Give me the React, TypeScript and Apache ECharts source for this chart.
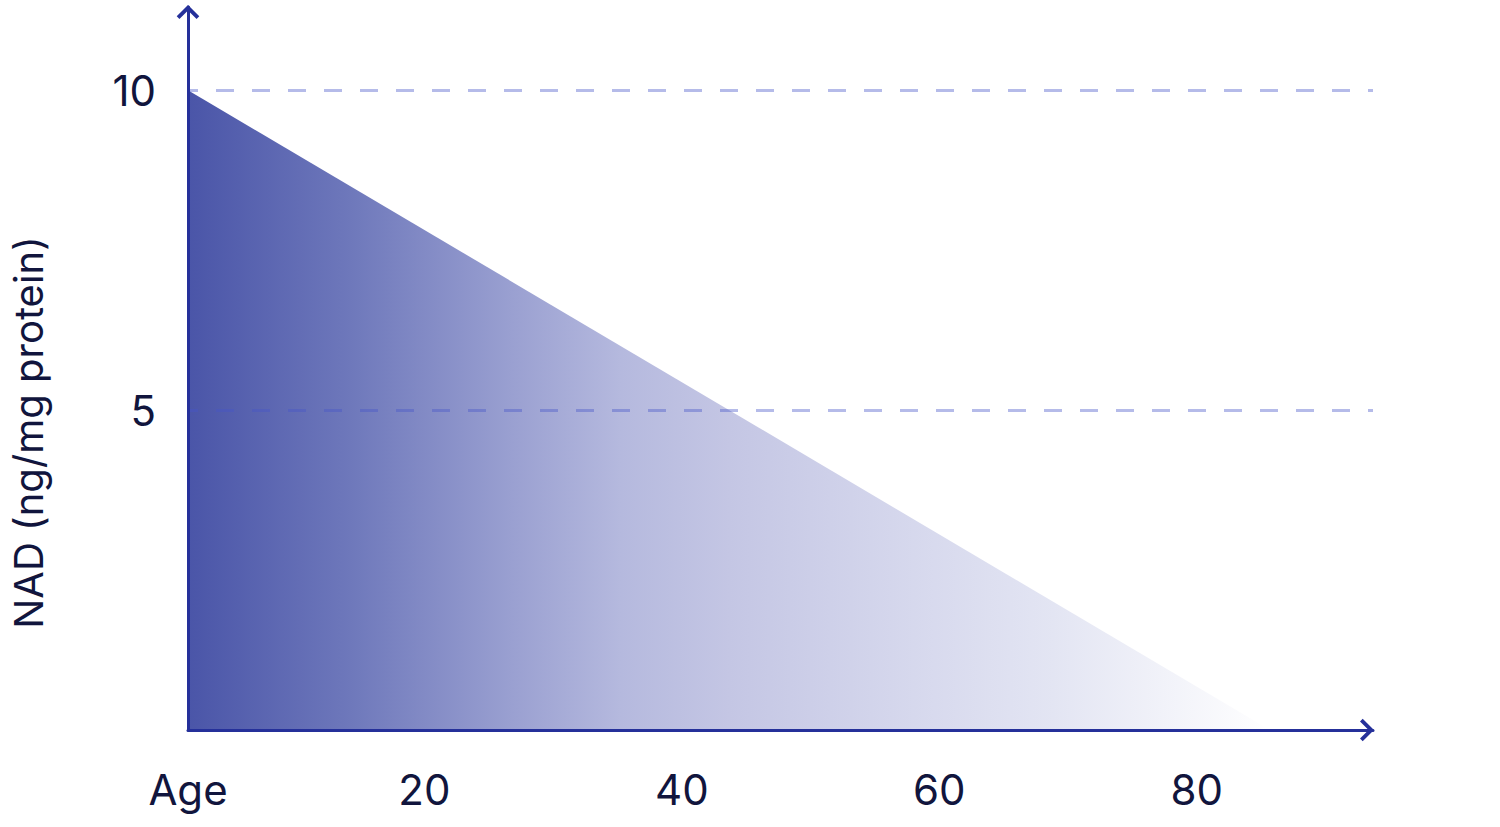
import React, { useEffect, useRef } from "react";
import * as echarts from "echarts";

// Data
const ageStart = 1.63; // age at the axis origin (labelled "Age")
const ageEnd = 93.7;
const ageTicks = [20, 40, 60, 80];
const curveAges = [ageStart, 85.7];
const curveNad = [10, 0];
const nadMax = 11.3;
const nadInterval = 5;
const yName = "NAD (ng/mg protein)";

const axisColor = "#25309a";
const textColor = "#11153d";
const fontFamily = "Inter, 'Noto Sans', sans-serif";

const chevron = "path://M0,10 L10,0 L20,10 L17.6,12.4 L10,4.8 L2.4,12.4 Z";

export default function App() {
  const ref = useRef<HTMLDivElement>(null);

  useEffect(() => {
    if (!ref.current) return;
    const chart = echarts.init(ref.current, null, { renderer: "svg" });
    const data = curveAges.map((a, i) => [a, curveNad[i]]);
    chart.setOption({
      animation: false,
      backgroundColor: "#ffffff",
      grid: { left: 185, right: 127, top: 7, bottom: 97, containLabel: false },
      xAxis: {
        type: "value",
        min: ageStart,
        max: ageEnd,
        z: 3,
        axisLine: {
          show: true,
          lineStyle: { color: axisColor, width: 3 },
          symbol: ["none", chevron],
          symbolSize: [28, 14],
          symbolOffset: [0, -6],
        },
        axisTick: { show: false },
        splitLine: { show: false },
        axisLabel: {
          customValues: [ageStart, ...ageTicks],
          formatter: (v: number) => (Math.abs(v - ageStart) < 0.01 ? "Age" : String(v)),
          color: textColor,
          fontSize: 42,
          fontFamily,
          margin: 38,
          showMinLabel: true,
          hideOverlap: false,
        },
      },
      yAxis: {
        type: "value",
        min: 0,
        max: nadMax,
        interval: nadInterval,
        z: 3,
        name: yName,
        nameLocation: "middle",
        nameGap: 140,
        nameRotate: 90,
        nameTextStyle: {
          color: textColor,
          fontSize: 40,
          fontFamily,
          padding: [0, 128, 0, 0],
        },
        axisLine: {
          show: true,
          lineStyle: { color: axisColor, width: 3 },
          symbol: ["none", chevron],
          symbolSize: [28, 14],
          symbolOffset: [0, -5],
        },
        axisTick: { show: false },
        axisLabel: {
          color: textColor,
          fontSize: 42,
          fontFamily,
          margin: 32,
          showMinLabel: false,
          showMaxLabel: false,
        },
        splitLine: {
          show: true,
          showMinLine: false,
          showMaxLine: false,
          lineStyle: {
            color: "rgba(70,85,200,0.4)",
            width: 3,
            type: [18, 18],
            dashOffset: 8,
          },
        },
      },
      series: [
        {
          type: "line",
          z: 1,
          data,
          symbol: "none",
          lineStyle: { width: 0 },
          areaStyle: {
            opacity: 1,
            color: new echarts.graphic.LinearGradient(0, 0, 1, 0, [
              { offset: 0, color: "#4a55a8" },
              { offset: 0.15, color: "#6e78bb" },
              { offset: 0.3, color: "#9aa0d1" },
              { offset: 0.4, color: "#b5b9de" },
              { offset: 0.5, color: "#c4c6e4" },
              { offset: 0.65, color: "#d4d6ec" },
              { offset: 0.8, color: "#e3e5f3" },
              { offset: 1, color: "#ffffff" },
            ]),
          },
        },
      ],
    });
    return () => chart.dispose();
  }, []);

  return (
    <div
      ref={ref}
      style={{ position: "absolute", left: 0, top: 0, width: 1500, height: 827 }}
    />
  );
}
